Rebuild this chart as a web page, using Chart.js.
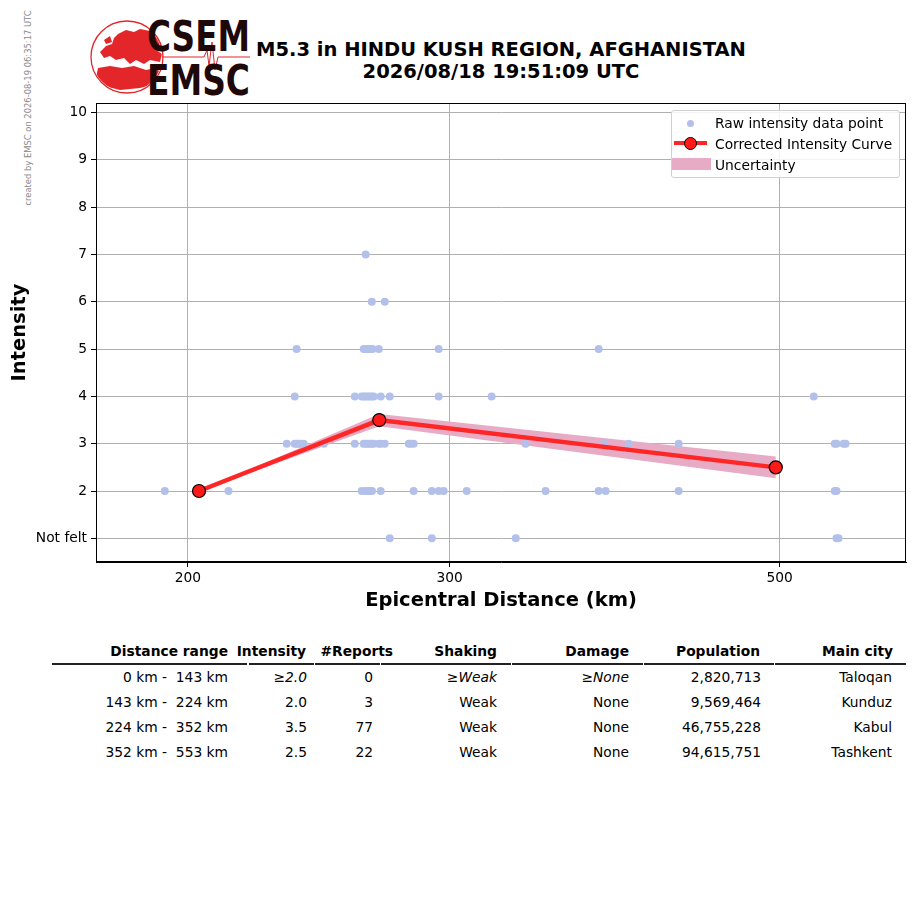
<!DOCTYPE html>
<html>
<head>
<meta charset="utf-8">
<script src="https://cdn.jsdelivr.net/npm/chart.js@4.4.0/dist/chart.umd.min.js"></script>
<style>
body { margin: 0; background: #fff; font-family: "DejaVu Sans", sans-serif; }
#page { position: relative; width: 915px; height: 905px; overflow: hidden; background: #fff; }
#credit { position: absolute; left: 28px; top: 108px; font-size: 8.4px; color: #8a8a8a; white-space: nowrap;
  transform: translate(-50%, -50%) rotate(-90deg); }
#title { position: absolute; left: 241px; width: 520px; top: 39px; text-align: center; font-weight: bold;
  font-size: 19.5px; line-height: 22px; color: #000; }
#chartBox { position: absolute; left: 0; top: 90px; width: 915px; height: 540px; }
#legend { position: absolute; left: 671px; top: 110px; width: 227px; height: 66px; border: 1px solid #d0d0d0;
  border-radius: 3px; background: rgba(255,255,255,0.85); font-size: 13.8px; }
.lrow { position: absolute; left: 43px; height: 16px; line-height: 16px; white-space: nowrap; }
.cell { position: absolute; font-size: 13.8px; line-height: 16px; white-space: pre; color: #000; }
.hline { position: absolute; top: 663px; height: 1.5px; background: #222; }
</style>
</head>
<body>
<div id="page">
  <div id="credit">created by EMSC on 2026-08-19 06:35:17 UTC</div>
  <svg style="position:absolute;left:85px;top:15px" width="175" height="85" viewBox="85 15 175 85">
    <defs><clipPath id="globe"><circle cx="127" cy="57" r="35"/></clipPath></defs>
    <circle cx="127" cy="57" r="36" fill="none" stroke="#e3262a" stroke-width="1.3"/>
    <g clip-path="url(#globe)" fill="#e3262a">
      <path d="M118 34 L126 30 L134 32 L140 29 L150 31 L158 36 L160 44 L156 50 L162 54 L160 62 L150 60 L144 64 L136 60 L130 64 L124 58 L116 60 L110 56 L104 58 L100 52 L106 46 L112 44 L114 38 Z"/>
      <path d="M98 68 L110 66 L122 68 L134 66 L146 70 L156 68 L162 74 L156 84 L140 88 L120 90 L104 86 L96 78 Z"/>
      <path d="M104 40 L110 36 L112 42 L106 44 Z"/>
    </g>
    <polyline points="162,57 204,57 207,50 209,66 212,42 215,70 218,57 250,57" fill="none" stroke="#e3262a" stroke-width="1"/>
    <text x="147" y="51" font-family="DejaVu Sans" font-weight="bold" font-size="42" fill="#1e0808"
      textLength="103" lengthAdjust="spacingAndGlyphs">CSEM</text>
    <text x="147" y="95" font-family="DejaVu Sans" font-weight="bold" font-size="42" fill="#1e0808"
      textLength="103" lengthAdjust="spacingAndGlyphs">EMSC</text>
  </svg>
  <div id="title">M5.3 in HINDU KUSH REGION, AFGHANISTAN<br>2026/08/18 19:51:09 UTC</div>
  <div id="chartBox"><canvas id="chartIntensidad"></canvas></div>
  <div id="legend">
    <div class="lrow" style="top:4px">Raw intensity data point</div>
    <div class="lrow" style="top:25px">Corrected Intensity Curve</div>
    <div class="lrow" style="top:46px">Uncertainty</div>
    <div style="position:absolute;left:15px;top:9px;width:7px;height:7px;border-radius:50%;background:#b3c0ea"></div>
    <div style="position:absolute;left:2px;top:30px;width:33px;height:4px;background:#ff2626"></div>
    <div style="position:absolute;left:12px;top:26px;width:11px;height:11px;border-radius:50%;background:#ff1a1a;border:1px solid #000"></div>
    <div style="position:absolute;left:0;top:47px;width:39px;height:12px;background:#e8abc5"></div>
  </div>
</div>
<script>
// raw intensity reports: distance (km) and intensity, read row by row
const rawDistances = [
    263.4,
    265.9, 271.3,
    236.7, 262.6, 263.6, 264.3, 265.1, 266.2, 268.8, 294.9, 377.8,
    236.0, 259.0, 261.8, 262.6, 263.4, 264.3, 265.1, 265.9, 266.7, 269.6, 273.4, 294.9, 320.1, 527.1,
    233.1, 236.0, 236.7, 237.5, 238.2, 239.3, 246.9, 259.0, 262.6, 263.4, 264.3, 265.1, 265.9, 266.7,
    268.8, 269.6, 271.3, 281.6, 282.4, 283.7, 337.4, 380.8, 395.8, 427.6, 544.5, 546.0, 552.0, 553.7,
    193.0, 213.0, 261.8, 263.4, 264.3, 265.1, 266.0, 269.6, 283.7, 291.8, 294.9, 297.2, 308.0, 348.0,
    377.8, 381.9, 427.6, 544.5, 546.0,
    273.4, 291.8, 332.3, 546.0, 547.7
];
const rawIntensities = [
    7,
    6, 6,
    5, 5, 5, 5, 5, 5, 5, 5, 5,
    4, 4, 4, 4, 4, 4, 4, 4, 4, 4, 4, 4, 4, 4,
    3, 3, 3, 3, 3, 3, 3, 3, 3, 3, 3, 3, 3, 3,
    3, 3, 3, 3, 3, 3, 3, 3, 3, 3, 3, 3, 3, 3,
    2, 2, 2, 2, 2, 2, 2, 2, 2, 2, 2, 2, 2, 2,
    2, 2, 2, 2, 2,
    1, 1, 1, 1, 1
];

const curveDistances = [203.5, 269, 497];
const curveIntensities = [2.0, 3.5, 2.5];
const bandUpper = [2.0, 3.63, 2.73];
const bandLower = [2.0, 3.37, 2.27];

const xTicks = [200, 300, 500];
const yTicks = [1, 2, 3, 4, 5, 6, 7, 8, 9, 10];
const yTickLabels = ['Not felt', '2', '3', '4', '5', '6', '7', '8', '9', '10'];

const tableHeaders = ['Distance range', 'Intensity', '#Reports', 'Shaking', 'Damage', 'Population', 'Main city'];
const distRanges = ['0 km -  143 km', '143 km -  224 km', '224 km -  352 km', '352 km -  553 km'];
const rowIntensity = ['≥2.0', '2.0', '3.5', '2.5'];
const rowReports = ['0', '3', '77', '22'];
const rowShaking = ['≥Weak', 'Weak', 'Weak', 'Weak'];
const rowDamage = ['≥None', 'None', 'None', 'None'];
const rowPopulation = ['2,820,713', '9,569,464', '46,755,228', '94,615,751'];
const rowCity = ['Taloqan', 'Kunduz', 'Kabul', 'Tashkent'];

// tabla
const page = document.getElementById('page');
const headRight = [228, 306, 393, 497, 629, 760, 893];
const cellRight = [228, 307, 373, 497, 629, 761, 892];
const rowY = [677, 702, 727, 752];

function addCell(text, right, yc, bold, italic) {
    const d = document.createElement('div');
    d.className = 'cell';
    d.textContent = text;
    d.style.right = (915 - right) + 'px';
    d.style.top = (yc - 8) + 'px';
    if (bold) d.style.fontWeight = 'bold';
    if (italic) d.style.fontStyle = 'italic';
    page.appendChild(d);
}
tableHeaders.forEach((h, i) => addCell(h, headRight[i], 651, true, false));
const columns = [distRanges, rowIntensity, rowReports, rowShaking, rowDamage, rowPopulation, rowCity];
columns.forEach((col, c) => {
    col.forEach((txt, r) => {
        const ital = r === 0 && txt.startsWith('≥');
        addCell(txt, cellRight[c], rowY[r], false, ital);
    });
});
const lineEdges = [52, 248, 314, 380, 511, 643, 774, 906];
for (let i = 0; i < lineEdges.length - 1; i++) {
    const l = document.createElement('div');
    l.className = 'hline';
    l.style.left = (lineEdges[i] + (i ? 1 : 0)) + 'px';
    l.style.width = (lineEdges[i + 1] - lineEdges[i] - 1) + 'px';
    page.appendChild(l);
}

// marco completo alrededor del area del grafico
const framePlugin = {
    id: 'frame',
    afterDraw(chart) {
        const { ctx, chartArea: a } = chart;
        ctx.save();
        ctx.strokeStyle = '#000';
        ctx.lineWidth = 1;
        ctx.strokeRect(a.left + 0.5, a.top + 0.5, a.right - a.left - 1, a.bottom - a.top - 1);
        ctx.restore();
    }
};

const ctx = document.getElementById('chartIntensidad');
new Chart(ctx, {
    type: 'line',
    data: {
        datasets: [
            {
                label: 'Corrected Intensity Curve',
                data: curveDistances.map((d, i) => ({ x: d, y: curveIntensities[i] })),
                borderColor: '#ff2626',
                borderWidth: 4.5,
                pointRadius: 6.5,
                pointBackgroundColor: '#ff1a1a',
                pointBorderColor: '#000',
                pointBorderWidth: 1.2,
                fill: false
            },
            {
                type: 'scatter',
                label: 'Raw intensity data point',
                data: rawDistances.map((d, i) => ({ x: d, y: rawIntensities[i] })),
                backgroundColor: '#b3c0ea',
                borderWidth: 0,
                pointRadius: 4,
                showLine: false
            },
            {
                label: 'Uncertainty',
                data: curveDistances.map((d, i) => ({ x: d, y: bandUpper[i] })),
                borderColor: 'rgba(0,0,0,0)',
                borderWidth: 1,
                pointRadius: 0,
                backgroundColor: '#e8abc5',
                fill: '+1'
            },
            {
                label: 'lower',
                data: curveDistances.map((d, i) => ({ x: d, y: bandLower[i] })),
                borderColor: 'rgba(0,0,0,0)',
                borderWidth: 1,
                pointRadius: 0,
                fill: false
            }
        ]
    },
    options: {
        responsive: true,
        maintainAspectRatio: false,
        animation: false,
        layout: { padding: { left: 0, right: 9, top: 13, bottom: 0 } },
        plugins: {
            legend: { display: false },
            tooltip: { enabled: false }
        },
        scales: {
            x: {
                type: 'logarithmic',
                min: 173.5,
                max: 608,
                afterBuildTicks: (scale) => { scale.ticks = xTicks.map(v => ({ value: v })); },
                afterFit: (scale) => { scale.height = 68; },
                grid: { color: '#b0b0b0', tickColor: '#000', tickLength: 5 },
                border: { color: '#000' },
                ticks: {
                    autoSkip: false,
                    maxRotation: 0,
                    padding: 3,
                    color: '#000',
                    font: { family: 'DejaVu Sans', size: 13.8 },
                    callback: (v) => String(v)
                },
                title: {
                    display: true,
                    text: 'Epicentral Distance (km)',
                    color: '#000',
                    font: { family: 'DejaVu Sans', size: 19.5, weight: 'bold' },
                    padding: { top: 0, bottom: 17.3 }
                }
            },
            y: {
                min: 0.5,
                max: 10.2,
                afterBuildTicks: (scale) => { scale.ticks = yTicks.map(v => ({ value: v })); },
                afterFit: (scale) => { scale.width = 96; },
                grid: { color: '#b0b0b0', tickColor: '#000', tickLength: 5 },
                border: { color: '#000' },
                ticks: {
                    autoSkip: false,
                    padding: 4,
                    color: '#000',
                    font: { family: 'DejaVu Sans', size: 13.8 },
                    callback: (v, i) => yTickLabels[i]
                },
                title: {
                    display: true,
                    text: 'Intensity',
                    color: '#000',
                    font: { family: 'DejaVu Sans', size: 19.5, weight: 'bold' },
                    padding: { top: 8.3, bottom: 0 }
                }
            }
        }
    },
    plugins: [framePlugin]
});
</script>
</body>
</html>
